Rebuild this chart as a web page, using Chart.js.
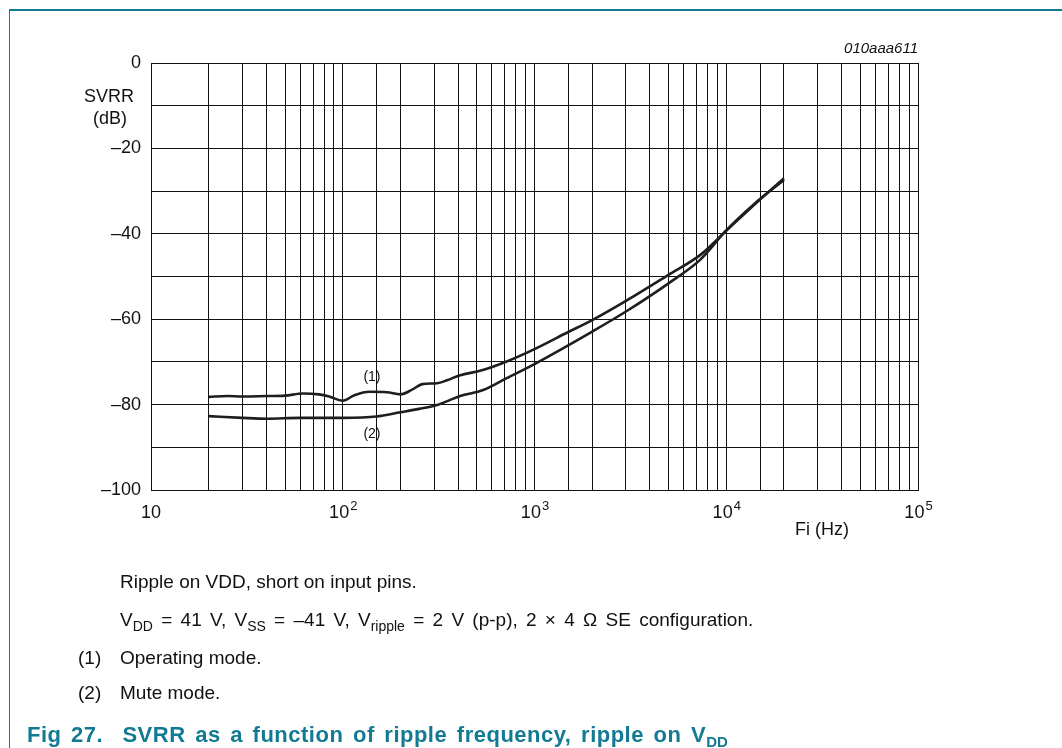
<!DOCTYPE html>
<html>
<head>
<meta charset="utf-8">
<script src="https://cdn.jsdelivr.net/npm/chart.js@4/dist/chart.umd.min.js"></script>
<style>
  body { margin: 0; background: #fff; font-family: "Liberation Sans", Arial, sans-serif; }
  #wrap { position: relative; width: 1062px; height: 748px; overflow: hidden; }
  #myChart { position: absolute; left: 0; top: 0; }
  .frameTop { position: absolute; left: 9px; top: 9px; width: 1053px; height: 2px; background: #0e7a94; }
  .frameLeft { position: absolute; left: 9px; top: 9px; width: 1px; height: 739px; background: #0e7a94; }
  .note { position: absolute; font-size: 19px; color: #111; white-space: nowrap; line-height: 22px; }
  .note sub { font-size: 14px; vertical-align: -5px; line-height: 0; }
  .wide { word-spacing: 3px; }
  .cap { position: absolute; left: 27px; top: 722px; font-size: 22px; letter-spacing: 0.5px; word-spacing: 3px; font-weight: bold; color: #137a93; white-space: nowrap; }
  .cap sub { font-size: 15px; vertical-align: -5px; line-height: 0; letter-spacing: 0; }
</style>
</head>
<body>
<div id="wrap">
  <canvas id="myChart" width="1062" height="748"></canvas>
  <div class="frameTop"></div>
  <div class="frameLeft"></div>
  <div class="note" style="left:120px; top:571px;">Ripple on VDD, short on input pins.</div>
  <div class="note wide" style="left:120px; top:609px;">V<sub>DD</sub> = 41 V, V<sub>SS</sub> = –41 V, V<sub>ripple</sub> = 2 V (p-p), 2 × 4 Ω SE configuration.</div>
  <div class="note" style="left:78px; top:647px;">(1)</div>
  <div class="note" style="left:120px; top:647px;">Operating mode.</div>
  <div class="note" style="left:78px; top:682px;">(2)</div>
  <div class="note" style="left:120px; top:682px;">Mute mode.</div>
  <div class="cap">Fig 27.&nbsp;&nbsp;SVRR as a function of ripple frequency, ripple on V<sub>DD</sub></div>
</div>
<script>
// curve (1) operating mode
const freqOperating = [20, 25, 30, 40, 50, 62, 75, 85, 100, 115, 138, 170, 200, 230, 260, 310, 350, 410, 520, 716, 1000, 1500, 2000, 3000, 5000, 7300, 10000, 14000, 20000];
const svrrOperating = [-78.2, -78.0, -78.1, -78.0, -77.9, -77.4, -77.6, -78.1, -79.1, -77.8, -77.0, -77.1, -77.6, -76.5, -75.2, -75.0, -74.3, -73.1, -72.1, -69.9, -67.0, -63.0, -60.2, -55.7, -49.6, -45.0, -39.3, -33.2, -27.0];

// curve (2) mute mode
const freqMute = [20, 30, 40, 60, 100, 150, 200, 250, 310, 410, 540, 716, 1000, 2000, 3000, 5000, 7300, 10000, 14000, 20000];
const svrrMute = [-82.7, -83.1, -83.3, -83.1, -83.1, -82.8, -81.8, -81.0, -80.1, -78.0, -76.6, -73.8, -70.5, -62.9, -58.2, -51.6, -46.1, -39.2, -33.0, -27.4];

// axis labels
const xDecades = [1, 2, 3, 4, 5];
const yLabels = [0, -20, -40, -60, -80, -100];

// curve tags
const curveTags = [
  { text: '(1)', f: 142, v: -73.6 },
  { text: '(2)', f: 142, v: -87.0 }
];

function toPoints(xs, ys) {
  return xs.map((x, i) => ({ x: x, y: ys[i] }));
}

const fontFam = '"Liberation Sans", Arial, sans-serif';

// draw tick labels, axis titles and tags
const labelsPlugin = {
  id: 'labels',
  afterDraw(chart) {
    const ctx = chart.ctx;
    const xs = chart.scales.x;
    const ys = chart.scales.y;
    ctx.save();
    ctx.fillStyle = '#111';

    // y labels
    ctx.font = '18px ' + fontFam;
    ctx.textAlign = 'right';
    ctx.textBaseline = 'middle';
    yLabels.forEach(v => {
      const txt = v < 0 ? '–' + Math.abs(v) : String(v);
      ctx.fillText(txt, xs.left - 10, ys.getPixelForValue(v));
    });

    // x labels with superscripts
    ctx.textBaseline = 'alphabetic';
    xDecades.forEach(k => {
      const px = xs.getPixelForValue(Math.pow(10, k));
      const base = '10';
      ctx.font = '18px ' + fontFam;
      const wb = ctx.measureText(base).width;
      let sup = k > 1 ? String(k) : '';
      ctx.font = '13px ' + fontFam;
      const ws = sup ? ctx.measureText(sup).width : 0;
      const start = px - (wb + ws) / 2;
      ctx.textAlign = 'left';
      ctx.font = '18px ' + fontFam;
      ctx.fillText(base, start, ys.bottom + 28);
      if (sup) {
        ctx.font = '13px ' + fontFam;
        ctx.fillText(sup, start + wb + 1, ys.bottom + 20);
      }
    });

    // axis titles
    ctx.font = '18px ' + fontFam;
    ctx.textAlign = 'center';
    ctx.textBaseline = 'middle';
    ctx.fillText('SVRR', 109, 97);
    ctx.fillText('(dB)', 110, 119);
    ctx.fillText('Fi (Hz)', 822, 530);

    ctx.font = 'italic 15px ' + fontFam;
    ctx.textAlign = 'right';
    ctx.fillText('010aaa611', xs.right, ys.top - 14);

    // curve tags
    ctx.font = '14px ' + fontFam;
    ctx.textAlign = 'center';
    curveTags.forEach(t => {
      ctx.fillText(t.text, xs.getPixelForValue(t.f), ys.getPixelForValue(t.v));
    });
    ctx.restore();
  }
};

const canva = document.getElementById('myChart').getContext('2d');
const myChart = new Chart(canva, {
  type: 'line',
  data: {
    datasets: [{
      label: 'Operating mode',
      data: toPoints(freqOperating, svrrOperating),
      borderColor: '#1e1e1e',
      borderWidth: 2.6,
      pointRadius: 0,
      fill: false,
      cubicInterpolationMode: 'monotone'
    }, {
      label: 'Mute mode',
      data: toPoints(freqMute, svrrMute),
      borderColor: '#1e1e1e',
      borderWidth: 2.6,
      pointRadius: 0,
      fill: false,
      cubicInterpolationMode: 'monotone'
    }]
  },
  options: {
    responsive: false,
    animation: false,
    layout: { padding: { left: 151, right: 144, top: 63, bottom: 258 } },
    plugins: {
      legend: { display: false },
      tooltip: { enabled: false }
    },
    scales: {
      x: {
        type: 'logarithmic',
        min: 10,
        max: 100000,
        ticks: { display: false, autoSkip: false },
        grid: { color: '#111', lineWidth: 1, drawTicks: false },
        border: { color: '#111', width: 1 }
      },
      y: {
        type: 'linear',
        min: -100,
        max: 0,
        ticks: { display: false, stepSize: 10 },
        grid: { color: '#111', lineWidth: 1, drawTicks: false },
        border: { color: '#111', width: 1 }
      }
    }
  },
  plugins: [labelsPlugin]
});
</script>
</body>
</html>
